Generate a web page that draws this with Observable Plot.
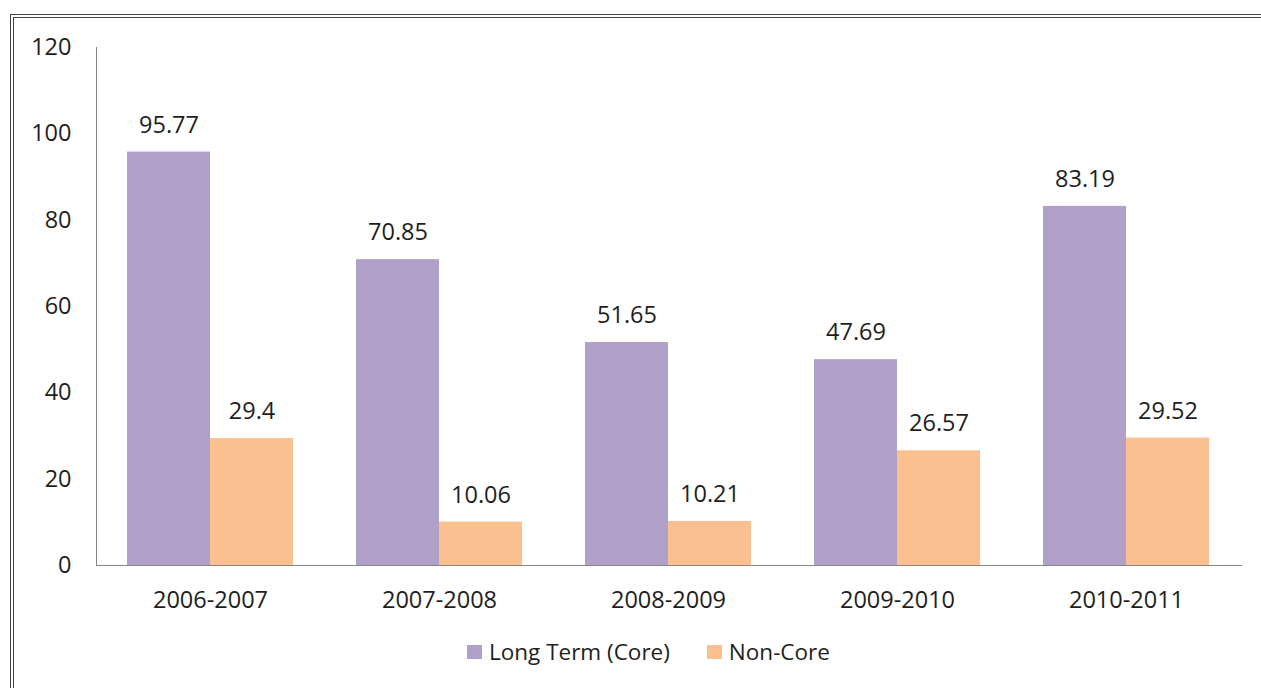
<!DOCTYPE html>
<html>
<head>
<meta charset="utf-8">
<script src="https://cdn.jsdelivr.net/npm/d3@7"></script>
<script src="https://cdn.jsdelivr.net/npm/@observablehq/plot@0.6"></script>
<style>
  html, body { margin: 0; padding: 0; background: #fff; overflow: hidden; }
  body { width: 1261px; height: 688px; position: relative; font-family: "Open Sans", "Noto Sans", sans-serif; }
  #frame {
    position: absolute; left: 10px; top: 14px; width: 1300px; height: 720px;
    border: 4px double #444; box-sizing: border-box;
  }
  #chart { position: absolute; left: 0; top: 0; }
  #chart svg { color: #868686; }
  #chart svg text { fill: #1e1e1e; }
  #legend {
    position: absolute; left: 467px; top: 636px; display: flex; align-items: center;
    font-size: 22.5px; color: #1e1e1e; font-family: "Open Sans", "Noto Sans", sans-serif;
  }
  .item { display: flex; align-items: center; margin-right: 37px; }
  .sw { width: 15px; height: 14px; margin-right: 7px; }
</style>
</head>
<body>
<div id="frame"></div>
<div id="chart"></div>
<div id="legend"></div>
<script>
// Fiscal years and the two deposit series
const years = ["2006-2007", "2007-2008", "2008-2009", "2009-2010", "2010-2011"];
const seriesNames = ["Long Term (Core)", "Non-Core"];
const coreValues = [95.77, 70.85, 51.65, 47.69, 83.19];
const nonCoreValues = [29.4, 10.06, 10.21, 26.57, 29.52];
const seriesColors = ["#B1A0C7", "#FAC090"];
const yTicks = [0, 20, 40, 60, 80, 100, 120];

const rows = years.flatMap((year, i) => [
  {year, series: seriesNames[0], value: coreValues[i]},
  {year, series: seriesNames[1], value: nonCoreValues[i]}
]);

// Two bars share each year band: one on the left half, one on the right half
const width = 1261, marginLeft = 96, marginRight = 20;
const padInner = 0.275, padOuter = 0.1375;
const step = (width - marginLeft - marginRight) / (years.length - padInner + 2 * padOuter);
const half = step * (1 - padInner) / 2;

const left = rows.filter(d => d.series === seriesNames[0]);
const right = rows.filter(d => d.series === seriesNames[1]);

const chart = Plot.plot({
  width,
  height: 620,
  marginLeft,
  marginRight,
  marginTop: 47,
  marginBottom: 55,
  style: {fontFamily: "'Open Sans', 'Noto Sans', sans-serif", fontSize: "23.5px", background: "transparent"},
  x: {type: "band", domain: years, paddingInner: padInner, paddingOuter: padOuter,
      tickSize: 0, tickPadding: 26, line: true, label: null},
  y: {domain: [0, 120], ticks: yTicks, tickSize: 0, tickPadding: 25, line: true, label: null},
  color: {domain: seriesNames, range: seriesColors},
  marks: [
    Plot.barY(left, {x: "year", y: "value", fill: "series", insetRight: half, insetLeft: 0}),
    Plot.barY(right, {x: "year", y: "value", fill: "series", insetLeft: half, insetRight: 0}),
    Plot.text(left, {x: "year", y: "value", text: d => String(d.value), dx: -half / 2, dy: -27, fontSize: 23.5}),
    Plot.text(right, {x: "year", y: "value", text: d => String(d.value), dx: half / 2, dy: -27, fontSize: 23.5})
  ]
});
document.getElementById("chart").appendChild(chart);

// Legend below the plot
const legend = document.getElementById("legend");
seriesNames.forEach((name, i) => {
  const item = document.createElement("div");
  item.className = "item";
  const sw = document.createElement("span");
  sw.className = "sw";
  sw.style.background = seriesColors[i];
  const label = document.createElement("span");
  label.textContent = name;
  item.appendChild(sw);
  item.appendChild(label);
  legend.appendChild(item);
});
</script>
</body>
</html>
